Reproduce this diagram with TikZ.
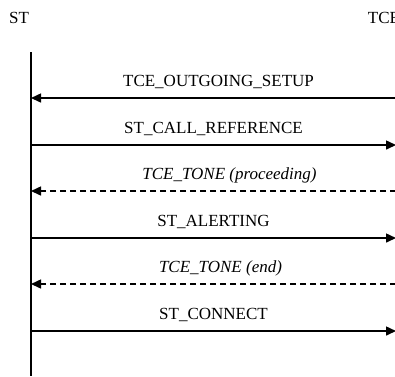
\documentclass[tikz,border=0pt]{standalone}
\usepackage{fontspec}
\setmainfont{Liberation Serif}
\usetikzlibrary{arrows.meta}
\usetikzlibrary{positioning}

\tikzset{
	lifeline/.style={line width=2pt},
	msg/.style={line width=1.5pt, -{Triangle[length=10pt, width=9pt]}},
	reply/.style={msg, dash pattern=on 6pt off 4pt},
	msglabel/.style={pos=0.5, anchor=base, yshift=12pt, inner sep=0pt},
	party/.style={anchor=base, inner sep=0pt}
}

\begin{document}
\begin{tikzpicture}[x=1pt, y=-1pt, font=\fontsize{17}{20}\selectfont]
		\useasboundingbox (0,0) rectangle (395,376);
		
		% parties
		\node[party] (st) at (19, 23) {ST};
		\node[party] (tce) at (384, 23) {TCE};
		
		\coordinate (sttop) at (31, 52);
		\coordinate (stbot) at (31, 376);
		\draw[lifeline] (sttop) -- (stbot);
		
		% points on the lifelines
		\coordinate (st1) at (31, 98);   \coordinate (tce1) at (396, 98);
		\coordinate (st2) at (31, 145);  \coordinate (tce2) at (396, 145);
		\coordinate (st3) at (31, 191);  \coordinate (tce3) at (396, 191);
		\coordinate (st4) at (31, 238);  \coordinate (tce4) at (396, 238);
		\coordinate (st5) at (31, 284);  \coordinate (tce5) at (396, 284);
		\coordinate (st6) at (31, 331);  \coordinate (tce6) at (396, 331);
		
		% messages
		\draw[msg] (tce1) -- node[msglabel, xshift=5pt] (m1) {TCE\_OUTGOING\_SETUP} (st1);
		\draw[msg] (st2) -- node[msglabel] (m2) {ST\_CALL\_REFERENCE} (tce2);
		\draw[reply] (tce3) -- node[msglabel, xshift=16pt] (m3) {\textit{TCE\_TONE} \textit{(proceeding)}} (st3);
		\draw[msg] (st4) -- node[msglabel] (m4) {ST\_ALERTING} (tce4);
		\draw[reply] (tce5) -- node[msglabel, xshift=7pt] (m5) {\textit{TCE\_TONE} \textit{(end)}} (st5);
		\draw[msg] (st6) -- node[msglabel] (m6) {ST\_CONNECT} (tce6);
	\end{tikzpicture}
\end{document}
